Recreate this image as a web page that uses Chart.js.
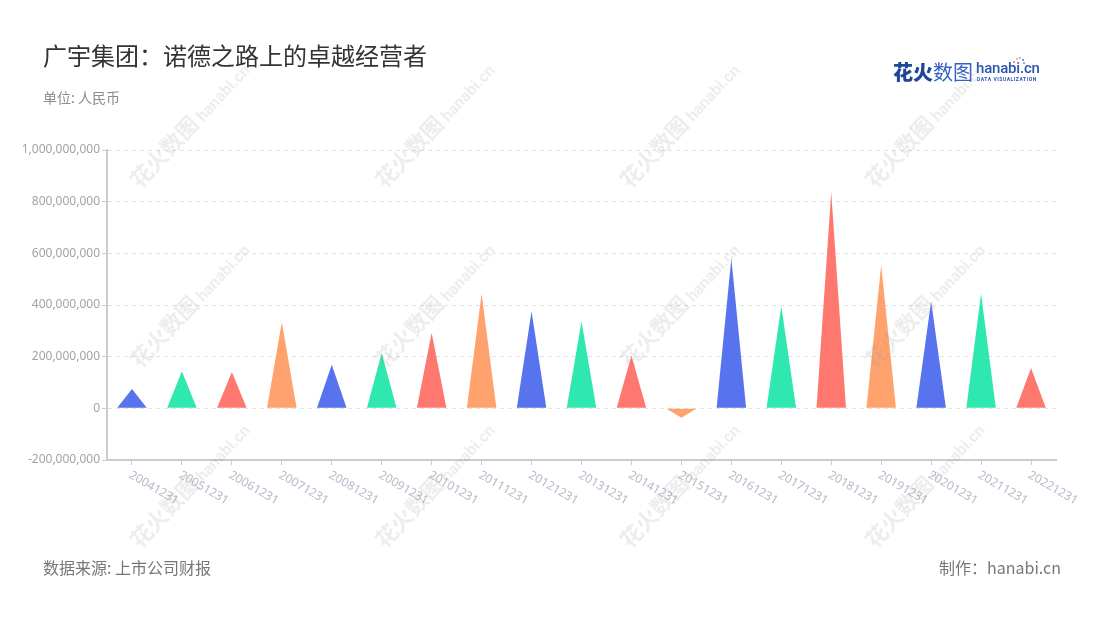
<!DOCTYPE html>
<html><head><meta charset="utf-8">
<script src="https://cdn.jsdelivr.net/npm/chart.js@4.4.0/dist/chart.umd.min.js"></script>
<style>
html,body{margin:0;padding:0;background:#fff;width:1100px;height:620px;overflow:hidden;font-family:"Noto Sans CJK SC","Noto Sans",sans-serif;}
#wrap{position:relative;width:1100px;height:620px;}
#c{position:absolute;left:0;top:0;}
.t{position:absolute;white-space:nowrap;}
.wm{position:absolute;white-space:nowrap;transform-origin:0 100%;transform:rotate(-47deg);color:rgba(150,150,150,0.17);pointer-events:none;line-height:26px;}
.wm b{font-size:22px;font-weight:700;letter-spacing:0px;}
.wm i{font-style:normal;font-family:Roboto,"Noto Sans",sans-serif;font-weight:700;font-size:16px;margin-left:4px;}
</style></head><body>
<div id="wrap">
<canvas id="c" width="1100" height="620"></canvas>
<div class="t" style="left:43px;top:43px;font-size:24px;line-height:24px;color:#333;">广宇集团：诺德之路上的卓越经营者</div>
<div class="t" style="left:43px;top:90px;font-size:14px;line-height:14px;color:#8c8c8c;">单位: 人民币</div>
<div class="t" style="left:43px;top:559px;font-size:16px;line-height:16px;color:#777;">数据来源: 上市公司财报</div>
<div class="t" style="right:39px;top:559px;font-size:16px;line-height:16px;color:#777;">制作：hanabi.cn</div>
<div class="t" style="left:893px;top:61px;font-size:20px;line-height:22px;"><span style="color:#1d4599;font-weight:900;">花火</span><span style="color:#3561c4;font-weight:400;">数图</span></div>
<div class="t" style="left:976px;top:59px;font-family:Roboto,sans-serif;font-size:15px;line-height:18px;font-weight:500;color:#2b55b3;letter-spacing:-0.2px;">hanabi.cn</div>
<div class="t" style="left:977px;top:76px;font-family:Roboto,sans-serif;font-size:5px;line-height:6px;font-weight:700;color:#2b55b3;letter-spacing:0.55px;">DATA VISUALIZATION</div>
<div class="t" style="left:1013px;top:57px;width:12px;height:8px;">
<span style="position:absolute;left:0;top:4px;width:2px;height:2px;background:#ff6b6b;border-radius:1px"></span>
<span style="position:absolute;left:3px;top:1px;width:2px;height:2px;background:#ffb347;border-radius:1px"></span>
<span style="position:absolute;left:6px;top:0px;width:2px;height:2px;background:#4ecdc4;border-radius:1px"></span>
<span style="position:absolute;left:9px;top:2px;width:2px;height:2px;background:#5873ee;border-radius:1px"></span>
<span style="position:absolute;left:10px;top:5px;width:2px;height:2px;background:#a66bff;border-radius:1px"></span>
</div>
<div id="wms"></div>
</div>
<script>
const categories = ['20041231','20051231','20061231','20071231','20081231','20091231','20101231','20111231','20121231','20131231','20141231','20151231','20161231','20171231','20181231','20191231','20201231','20211231','20221231'];
const netProfit = [75e6, 144e6, 141e6, 334e6, 169e6, 214e6, 293e6, 444e6, 376e6, 336e6, 204e6, -36e6, 580e6, 395e6, 837e6, 554e6, 415e6, 444e6, 156e6];
const yMin = -200000000;
const yMax = 1000000000;
const yStep = 200000000;
const palette = ['#5873ee','#2ee8b0','#ff7870','#ffa26e'];

// watermarks
const wmHost = document.getElementById('wms');
[190, 370, 550].forEach(by => {
  [130, 375, 620, 865].forEach(bx => {
    const d = document.createElement('div');
    d.className = 'wm';
    d.style.left = (bx + 16) + 'px';
    d.style.top = (by - 26) + 'px';
    d.innerHTML = '<b>花火数图</b><i>hanabi.cn</i>';
    wmHost.appendChild(d);
  });
});

const trianglePlugin = {
  id: 'triangles',
  beforeDatasetDraw(chart, args) {
    const meta = args.meta;
    const ds = chart.data.datasets[args.index];
    const ctx = chart.ctx;
    ctx.save();
    meta.data.forEach((el, i) => {
      const p = el.getProps(['x','y','base','width'], true);
      ctx.beginPath();
      ctx.moveTo(p.x - p.width / 2, p.base);
      ctx.lineTo(p.x + p.width / 2, p.base);
      ctx.lineTo(p.x, p.y);
      ctx.closePath();
      ctx.fillStyle = ds.backgroundColor[i];
      ctx.fill();
    });
    ctx.restore();
    return false;
  }
};

const xLabelPlugin = {
  id: 'xlabels',
  afterDraw(chart) {
    const sx = chart.scales.x;
    const ctx = chart.ctx;
    ctx.save();
    ctx.font = '12px "Noto Sans", sans-serif';
    ctx.fillStyle = '#b5bac8';
    ctx.textAlign = 'left';
    ctx.textBaseline = 'top';
    categories.forEach((lab, i) => {
      const x = sx.getPixelForTick(i);
      ctx.save();
      ctx.translate(x + 1, sx.top + 9);
      ctx.rotate(Math.PI / 6);
      ctx.fillText(lab, 0, 0);
      ctx.restore();
    });
    ctx.restore();
  }
};

new Chart(document.getElementById('c'), {
  type: 'bar',
  data: {
    labels: categories,
    datasets: [{
      data: netProfit,
      backgroundColor: categories.map((_, i) => palette[i % palette.length]),
      categoryPercentage: 1,
      barPercentage: 0.59
    }]
  },
  options: {
    responsive: false,
    animation: false,
    devicePixelRatio: 1,
    layout: { padding: { left: 0, top: 150, right: 44, bottom: 150 } },
    plugins: { legend: { display: false }, tooltip: { enabled: false } },
    scales: {
      x: {
        grid: { display: true, drawOnChartArea: false, drawTicks: true, tickLength: 5, tickColor: '#cccccc', tickWidth: 1, offset: false },
        border: { display: true, color: '#cccccc', width: 2 },
        ticks: { display: false },
        afterFit(s) { s.height = 10; }
      },
      y: {
        min: yMin, max: yMax,
        grid: { color: '#e2e2e2', lineWidth: 1, drawTicks: true, tickLength: 5, tickColor: '#cccccc', tickWidth: 1 },
        border: { display: true, color: '#cccccc', width: 2, dash: [4, 4] },
        ticks: {
          stepSize: yStep,
          padding: 2,
          color: '#a3a3a3',
          font: { family: '"Noto Sans", sans-serif', size: 12 },
          callback: v => Number(v).toLocaleString('en-US')
        },
        afterFit(s) { s.width = 107; }
      }
    }
  },
  plugins: [trianglePlugin, xLabelPlugin]
});
</script>
</body></html>
